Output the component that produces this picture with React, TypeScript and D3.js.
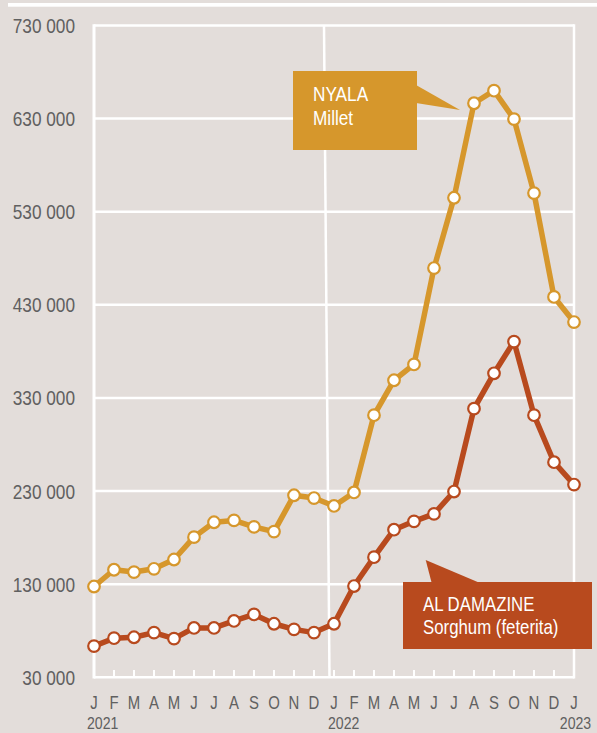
import React from "react";
import * as d3 from "d3";

const months = ["J","F","M","A","M","J","J","A","S","O","N","D","J","F","M","A","M","J","J","A","S","O","N","D","J"];
const years = ["2021", "2022", "2023"];
const yTicks = [30000, 130000, 230000, 330000, 430000, 530000, 630000, 730000];
const nyalaMillet = [127500, 145500, 143000, 146500, 156500, 180500, 196500, 198500, 191500, 186500, 225500, 222500, 214000, 228500, 311500, 349000, 366000, 469500, 545000, 646500, 660000, 629500, 550000, 438500, 411500];
const damazineSorghum = [63500, 72000, 73000, 78000, 71500, 83000, 83000, 90500, 97500, 87500, 81500, 78000, 87500, 128000, 159000, 188500, 197500, 205500, 229500, 318500, 356500, 390500, 311500, 261000, 237000];

const W = 597, H = 733;
const BG = "#e3ddda";
const ORANGE = "#d6972c";
const RED = "#b84a1e";
const TXT = "#606060";
const SX = 0.82;
const FONT = "'Liberation Sans', Arial, sans-serif";

function NText({ x, y, size, fill, anchor = "start", children }: any) {
  return (
    <text transform={`translate(${x},${y}) scale(${SX},1)`} fontSize={size} fill={fill} textAnchor={anchor} fontFamily={FONT}>
      {children}
    </text>
  );
}

export default function App() {
  const x = d3.scaleLinear().domain([0, 24]).range([94, 574]);
  const y = d3.scaleLinear().domain([30000, 730000]).range([677.3, 25.5]);
  const line = d3.line<number>().x((_, i) => x(i)).y((d) => y(d));
  const series = [
    { data: nyalaMillet, color: ORANGE },
    { data: damazineSorghum, color: RED },
  ];
  const divTop = (x(11) + x(12)) / 2;
  return (
    <svg width={W} height={H} style={{ position: "absolute", left: 0, top: 0, background: BG }}>
      <rect x={0} y={0} width={W} height={H} fill={BG} />
      <rect x={8} y={3} width={W - 8} height={3.7} fill="#fff" />
      {yTicks.map((t) => (
        <g key={t}>
          <line x1={x(0)} x2={x(24)} y1={y(t)} y2={y(t)} stroke="#fff" strokeWidth={2.5} />
          <NText x={75} y={y(t) + 7.5} size={21} fill={TXT} anchor="end">
            {d3.format(",")(t).replace(/,/g, " ")}
          </NText>
        </g>
      ))}
      <line x1={x(0)} x2={x(0)} y1={y(730000) - 1.2} y2={y(30000) + 1.2} stroke="#fff" strokeWidth={3} />
      <line x1={x(24)} x2={x(24)} y1={y(730000) - 1.2} y2={y(30000) + 1.2} stroke="#fff" strokeWidth={2.5} />
      <line x1={divTop} x2={divTop + 5.5} y1={y(730000)} y2={y(30000)} stroke="#fff" strokeWidth={2.5} />
      {months.map((m, i) => (
        <g key={i}>
          {i > 0 && <line x1={x(i)} x2={x(i)} y1={670} y2={677} stroke="#fff" strokeWidth={2} />}
          <NText x={x(i)} y={708.8} size={18.2} fill={TXT} anchor="middle">{m}</NText>
        </g>
      ))}
      <NText x={x(0) - 7} y={729} size={17.2} fill={TXT}>{years[0]}</NText>
      <NText x={x(12) - 6} y={729} size={17.2} fill={TXT}>{years[1]}</NText>
      <NText x={x(24) + 1.5} y={729} size={17.2} fill={TXT} anchor="middle">{years[2]}</NText>
      {series.map((s, si) => (
        <g key={si}>
          <path d={line(s.data) || ""} fill="none" stroke={s.color} strokeWidth={5.5} strokeLinejoin="round" />
          {s.data.map((v, i) => (
            <circle key={i} cx={x(i)} cy={y(v)} r={5.8} fill="#fff" stroke={s.color} strokeWidth={2.2} />
          ))}
        </g>
      ))}
      <rect x={293} y={71} width={124} height={79} fill={ORANGE} />
      <polygon points="416,85 416,103 460,110" fill={ORANGE} />
      <NText x={313} y={100.7} size={21} fill="#fff">NYALA</NText>
      <NText x={313} y={125} size={21} fill="#fff">Millet</NText>
      <rect x={403} y={582} width={189} height={67} fill={RED} />
      <polygon points="425.7,560 431.7,583 480,583" fill={RED} />
      <NText x={423} y={610.7} size={20.5} fill="#fff">AL DAMAZINE</NText>
      <NText x={423} y={634} size={20.5} fill="#fff">Sorghum (feterita)</NText>
    </svg>
  );
}
